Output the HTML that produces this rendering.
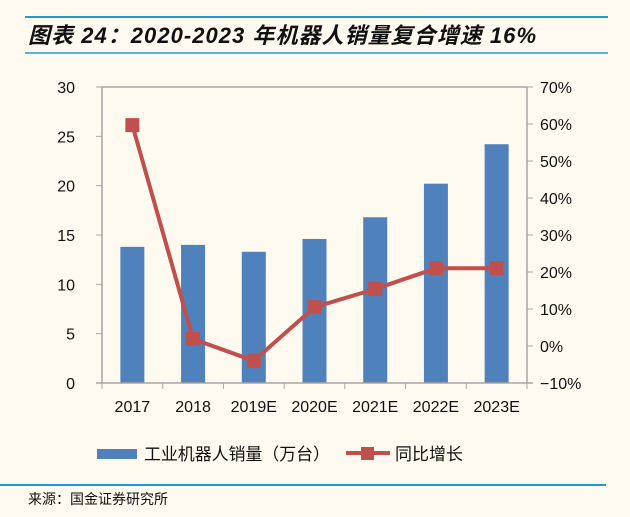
<!DOCTYPE html>
<html><head><meta charset="utf-8"><style>
body{margin:0;background:#fffaf0;}
svg{display:block;font-family:"Liberation Sans","Noto Sans CJK SC",sans-serif;}
</style></head><body>
<svg id="c" width="630" height="517" viewBox="0 0 630 517">
<rect width="630" height="517" fill="#fffaf0"/>
<line x1="25" y1="17" x2="608" y2="17" stroke="#1a9be0" stroke-width="2"/>
<text x="28" y="43" font-size="22" font-weight="bold" font-style="italic" fill="#111" textLength="508">图表 24：2020-2023 年机器人销量复合增速 16%</text>
<line x1="25" y1="53" x2="608" y2="53" stroke="#1a9be0" stroke-width="1.5"/>
<g id="plot"></g>
<g>
<rect x="97" y="449" width="40" height="10" fill="#4f81bd"/>
<text x="144" y="460" font-size="17" fill="#111" textLength="186">工业机器人销量（万台）</text>
<line x1="346" y1="453" x2="390" y2="453" stroke="#c0504d" stroke-width="4"/>
<rect x="361" y="447" width="13" height="13" fill="#c0504d"/>
<text x="395" y="460" font-size="17" fill="#111">同比增长</text>
</g>
<line x1="0" y1="485" x2="606" y2="485" stroke="#1a9be0" stroke-width="2"/>
<text x="28" y="504" font-size="14" fill="#111">来源：国金证券研究所</text>
</svg>
<script>
const categories=["2017","2018","2019E","2020E","2021E","2022E","2023E"];
const sales=[13.8,14.0,13.3,14.6,16.8,20.2,24.2];
const growth=[59.7,1.9,-4.0,10.5,15.4,21.0,21.0];
const leftTicks=[0,5,10,15,20,25,30];
const rightTicks=[-10,0,10,20,30,40,50,60,70];
const NS="http://www.w3.org/2000/svg";
const g=document.getElementById('plot');
const X0=102,X1=527,Y0=383,Y1=87;
const cw=(X1-X0)/categories.length;
const yL=v=>Y0-(v/30)*(Y0-Y1);
const yR=v=>Y0-((v+10)/80)*(Y0-Y1);
const xC=i=>X0+cw*(i+0.5);
function mk(t,a){const e=document.createElementNS(NS,t);for(const k in a)e.setAttribute(k,a[k]);g.appendChild(e);return e;}
let e;
e=mk('line',{x1:X0,y1:Y1,x2:X1,y2:Y1,stroke:'#a6a6a6','stroke-width':1.5});


e=mk('line',{x1:X0,y1:Y1,x2:X0,y2:Y0,stroke:'#a6a6a6','stroke-width':1.5});


e=mk('line',{x1:X1,y1:Y1,x2:X1,y2:Y0,stroke:'#a6a6a6','stroke-width':1.5});


leftTicks.forEach(v=>{
 e=mk('line',{x1:X0-6,y1:yL(v),x2:X0,y2:yL(v),stroke:'#a6a6a6'});
 
 
 e=mk('text',{x:X0-27,y:yL(v)+6,'font-size':16,'text-anchor':'end',fill:'#111'});e.textContent=v;
 
 
});
rightTicks.forEach(v=>{
 e=mk('line',{x1:X1,y1:yR(v),x2:X1+6,y2:yR(v),stroke:'#a6a6a6'});
 
 
 e=mk('text',{x:X1+13,y:yR(v)+6,'font-size':16,fill:'#111'});e.textContent=(v<0?'−':'')+Math.abs(v)+'%';
 
 
});
categories.forEach((c,i)=>{
 e=mk('rect',{x:xC(i)-12,y:yL(sales[i]),width:24,height:Y0-yL(sales[i]),fill:'#4f81bd'});
 
 
 e=mk('text',{x:xC(i),y:Y0+29,'font-size':16,'text-anchor':'middle',fill:'#111'});e.textContent=c;
 
 
});
e=mk('line',{x1:X0-6,y1:Y0,x2:X1+6,y2:Y0,stroke:'#a6a6a6','stroke-width':1.5});


for(let i=0;i<=categories.length;i++){
 e=mk('line',{x1:X0+cw*i,y1:Y0,x2:X0+cw*i,y2:Y0+6,stroke:'#a6a6a6'});
 
 
}
e=mk('polyline',{points:growth.map((v,i)=>xC(i)+','+yR(v)).join(' '),fill:'none',stroke:'#c0504d','stroke-width':4});


growth.forEach((v,i)=>{
 e=mk('rect',{x:xC(i)-7,y:yR(v)-7,width:14,height:14,fill:'#c0504d'});
 
 
});
</script>
</body></html>
